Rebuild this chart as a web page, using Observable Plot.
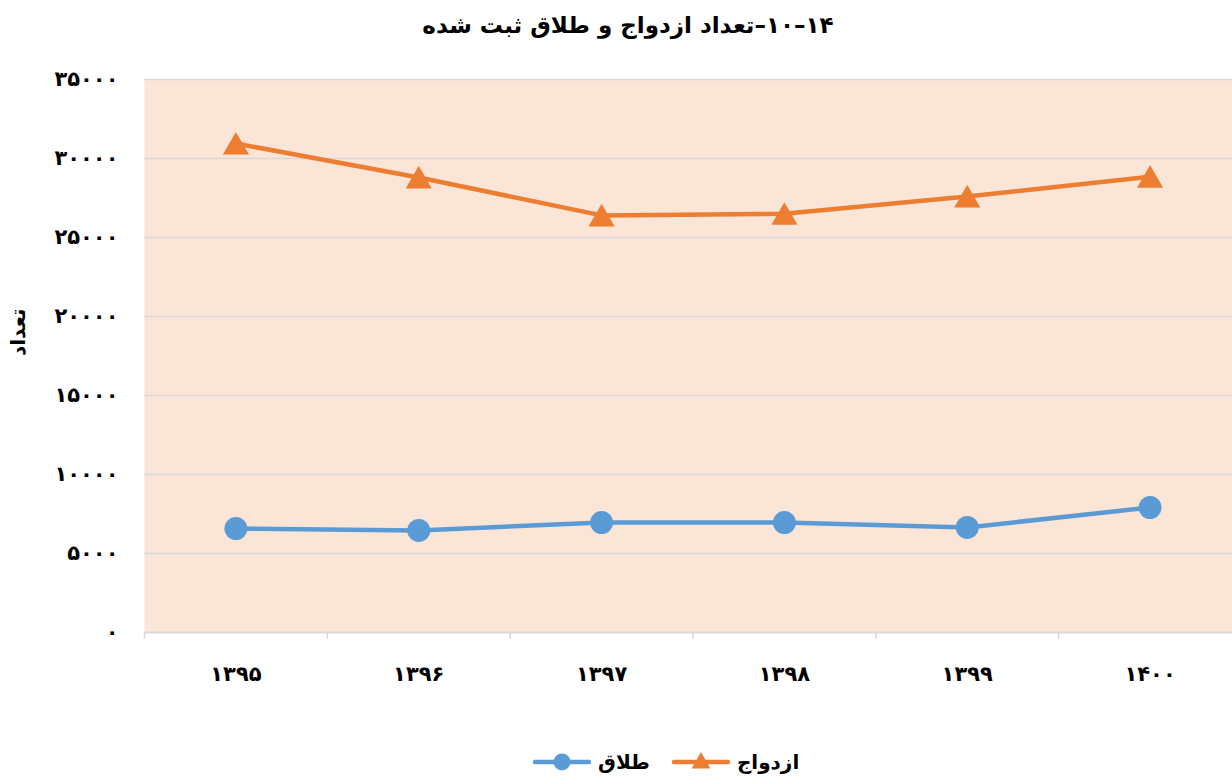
<!DOCTYPE html>
<html><head><meta charset="utf-8">
<script src="https://cdn.jsdelivr.net/npm/d3@7"></script>
<script src="https://cdn.jsdelivr.net/npm/@observablehq/plot@0.6"></script>
<style>
body{margin:0;background:#fff;font-family:"DejaVu Sans",sans-serif;width:1232px;height:780px;position:relative;overflow:hidden;}
#title{position:absolute;left:0;top:0;width:1232px;height:50px;line-height:50px;text-align:center;padding-left:24px;box-sizing:border-box;font-size:23px;font-weight:bold;color:#000;direction:rtl;unicode-bidi:isolate;}
#chart{position:absolute;left:0;top:50px;}
#legend{position:absolute;left:533px;top:750px;display:flex;align-items:center;font-size:20px;font-weight:bold;color:#000;direction:ltr;}
#legend .item{display:flex;align-items:center;margin-right:22px;}
#legend svg{margin-right:7px;}
</style></head><body>
<div id="title"></div>
<div id="chart"></div>
<div id="legend"></div>
<script>
// Data
const years = ["۱۳۹۵","۱۳۹۶","۱۳۹۷","۱۳۹۸","۱۳۹۹","۱۴۰۰"];
const marriage = [30950, 28800, 26400, 26500, 27600, 28850];
const divorce = [6580, 6460, 6960, 6960, 6650, 7910];
const yTicks = [0, 5000, 10000, 15000, 20000, 25000, 30000, 35000];
const seriesNames = ["ازدواج", "طلاق"];
const seriesColors = ["#ED7D31", "#5B9BD5"];
const titleText = "۱۴–۱۰–تعداد ازدواج و طلاق ثبت شده";
const yLabel = "تعداد";

const fa = s => String(s).replace(/[0-9]/g, d => "۰۱۲۳۴۵۶۷۸۹"[d]);
const data = years.map((yr, i) => ({year: yr, marriage: marriage[i], divorce: divorce[i]}));

document.getElementById("title").textContent = titleText;

const x0 = 144, x1 = 1241;
const step = (x1 - x0) / years.length;

const chart = Plot.plot({
  width: 1232, height: 660,
  marginLeft: 144, marginRight: 0, marginTop: 29, marginBottom: 78,
  style: {fontFamily: "DejaVu Sans", fontSize: "20px", fontWeight: "bold", color: "#000", background: "transparent", overflow: "visible"},
  x: {type: "point", domain: years, range: [x0, x1], padding: 0.5, round: false},
  y: {domain: [0, 35000], range: [582, 29]},
  marks: [
    Plot.frame({fill: "#FBE5D6", stroke: null}),
    Plot.ruleY(yTicks.filter(d => d > 0), {stroke: "#D9D9D9", strokeWidth: 1.5}),
    Plot.ruleY([0], {stroke: "#D9D9D9", strokeWidth: 2}),
    Plot.axisX({tickSize: 7, tickFormat: () => "", dx: -step / 2, stroke: "#D9D9D9", strokeWidth: 1.5, label: null}),
    Plot.axisX({tickSize: 0, tickPadding: 34, tickFormat: d => d, label: null, fontSize: 21}),
    Plot.axisY({ticks: yTicks, tickSize: 0, tickPadding: 26, tickFormat: fa, label: null, fontSize: 21}),
    Plot.text([yLabel], {frameAnchor: "left", dx: -126, rotate: -90, fontSize: 20, fontWeight: "bold", fill: "#000"}),
    Plot.line(data, {x: "year", y: "marriage", stroke: seriesColors[0], strokeWidth: 4.5}),
    Plot.dot(data, {x: "year", y: "marriage", symbol: "triangle", r: 9.7, fill: seriesColors[0], dy: 3.5}),
    Plot.line(data, {x: "year", y: "divorce", stroke: seriesColors[1], strokeWidth: 4.5}),
    Plot.dot(data, {x: "year", y: "divorce", r: 11.5, fill: seriesColors[1]})
  ]
});
document.getElementById("chart").appendChild(chart);

// Legend: طلاق (circle) on the left, ازدواج (triangle) on the right
const legend = document.getElementById("legend");
const items = [
  {name: seriesNames[1], color: seriesColors[1], shape: "circle"},
  {name: seriesNames[0], color: seriesColors[0], shape: "triangle"}
];
for (const it of items) {
  const div = document.createElement("div");
  div.className = "item";
  const marker = it.shape === "circle"
    ? `<circle cx="29" cy="11" r="8.5" fill="${it.color}"/>`
    : `<path d="M29,1 L38.5,17.5 L19.5,17.5 Z" fill="${it.color}"/>`;
  div.innerHTML = `<svg width="58" height="22"><line x1="2" y1="11" x2="56" y2="11" stroke="${it.color}" stroke-width="4.5" stroke-linecap="round"/>${marker}</svg><span>${it.name}</span>`;
  legend.appendChild(div);
}
</script>
</body></html>
